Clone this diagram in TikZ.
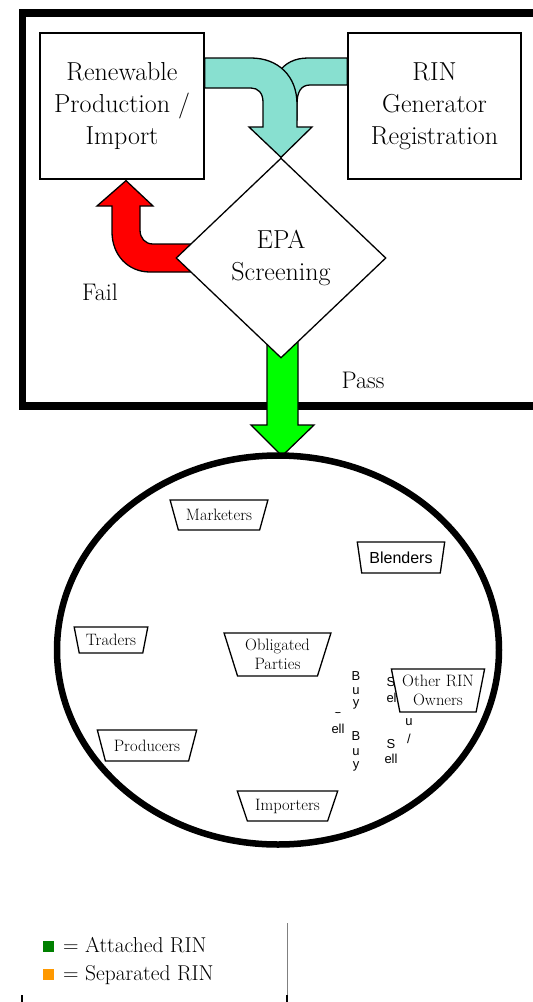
\documentclass[tikz,border=0pt]{standalone}
\usepackage{fontspec}
\setsansfont{Liberation Sans}
\usetikzlibrary{calc,positioning,shapes.geometric}
\pgfdeclarelayer{back}
\pgfsetlayers{back,main}

\definecolor{rinteal}{RGB}{136,224,208}
\definecolor{passgreen}{RGB}{0,255,0}
\definecolor{failred}{RGB}{255,0,0}
\definecolor{attgreen}{RGB}{0,128,0}
\definecolor{seporange}{RGB}{255,153,0}

\tikzset{
  bigbox/.style={draw,line width=1.3,fill=white,rectangle,align=center,
    font=\fontsize{26}{32}\selectfont},
  party/.style={draw,line width=1.3,fill=white,trapezium,trapezium stretches=true,
    shape border rotate=180,inner sep=1pt,align=center,
    font=\fontsize{16.5}{19}\selectfont},
  frag/.style={inner sep=0,font=\sffamily\fontsize{13}{13}\selectfont},
  blockarrow/.style={draw,line width=1.3,line join=miter},
}

\begin{document}
\begin{tikzpicture}[x=1pt,y=-1pt]

  \useasboundingbox (0,0) rectangle (533,1002);

  % screening stage
  \node[bigbox,minimum width=164,minimum height=146] at(122,106) (renew) {Renewable\\Production /\\Import};
  \node[bigbox,minimum width=173,minimum height=146] at(434.5,106) (rin) {RIN\\Generator\\Registration};
  \node[draw,line width=1.3,fill=white,diamond,minimum width=210,minimum height=200,inner sep=0,
    align=center,font=\fontsize{26}{32}\selectfont] at(281,258) (epa) {EPA\\Screening};

  \node[font=\fontsize{24}{24}\selectfont] at(100,292) (fail) {Fail};
  \node[font=\fontsize{24}{24}\selectfont] at(363,380) (pass) {Pass};

  \begin{pgfonlayer}{back}
    \fill[white] (0,0) rectangle (533,1002);
    % outer frame
    \draw[line width=7.5] (545,13) -- (22.5,13) -- (22.5,406) -- (545,406);

    % RIN registration joins the flow
    \filldraw[blockarrow,fill=rinteal] (rin.west |- 0,58) -- (308,58)
      .. controls (295,58) and (285,63) .. (279,72) -- (270,92) -- (275,120) -- (297,120)
      -- (297,104) .. controls (297,92) and (301,85) .. (310,85) -- (rin.west |- 0,85) -- cycle;
    \filldraw[blockarrow,fill=rinteal] (renew.east |- 0,58) -- (251,58)
      .. controls (278,58) and (297,76) .. (297,104) -- (297,127) -- (312,127) -- (epa.north)
      -- (249,127) -- (263,127) -- (263,102) .. controls (263,93) and (258,88) .. (251,88)
      -- (renew.east |- 0,88) -- cycle;

    % fail goes back
    \filldraw[blockarrow,fill=failred] ($(epa.west)+(30,-14)$) -- (153,244)
      .. controls (145,244) and (140,238) .. (140,230) -- (140,206) -- (153,206)
      -- ($(renew.south)+(4,1)$) -- (97,206) -- (112,206) -- (112,232)
      .. controls (112,255) and (128,272) .. (150,272) -- ($(epa.west)+(30,14)$) -- cycle;

    % pass goes to market
    \filldraw[blockarrow,fill=passgreen] (267,330) -- (267,425) -- (251,425) -- (282,456)
      -- (314,425) -- (298,425) -- (298,330) -- cycle;
  \end{pgfonlayer}

  % RIN market
  \node[draw,line width=6.5,line join=round,ellipse,minimum width=442,minimum height=389] at(278,650) (market) {};

  \node[party,trapezium angle=63,minimum width=98,minimum height=30] at(219,515) (marketers) {Marketers};
  \node[party,trapezium angle=75,minimum width=88,minimum height=31,
    font=\sffamily\fontsize{16}{16}\selectfont] at(401,557.5) (blenders) {Blenders};
  \node[party,trapezium angle=73,minimum width=74,minimum height=26] at(111,640) (traders) {Traders};
  \node[party,trapezium angle=71,minimum width=107,minimum height=43] at(277.5,654.5) (obligated) {Obligated\\Parties};
  \node[party,trapezium angle=64,minimum width=100,minimum height=31] at(147,745.5) (producers) {Producers};
  \node[party,trapezium angle=63,minimum width=101,minimum height=30] at(287.5,806) (importers) {Importers};

  % broken buy / sell labels
  \foreach \ch/\yy [count=\i] in {B/676,u/691,y/704}{
    \node[frag] at(356,\yy) (buy_a\i) {\ch};
  }
  \foreach \ch/\yy [count=\i] in {B/736,u/752,y/766}{
    \node[frag] at(356,\yy) (buy_b\i) {\ch};
  }
  \begin{scope}
    \clip (330,712) rectangle (346,720);
    \node[frag] at(338,709) (sell_cut) {S};
  \end{scope}
  \node[frag] at(338,729) (sell_a) {ell};
  \node[frag] at(391,682) (sell_b1) {S};
  \node[frag] at(393,698) (sell_b2) {ell};
  \node[frag] at(409,722) (buy_c1) {u};
  \node[frag] at(409,739) (buy_c2) {/};
  \node[frag] at(391,744) (sell_c1) {S};
  \node[frag] at(391,759) (sell_c2) {ell};

  \node[party,trapezium angle=76,minimum width=94,minimum height=43] at(438,690.5) (owners) {Other RIN\\Owners};

  % legend
  \fill[white] (22,923) rectangle (287,1002);
  \draw[gray,line width=0.8] (287,923) -- (287,995);
  \draw[line width=1.5] (22,995) -- (22,1002);
  \draw[line width=1.5] (287,995) -- (287,1002);
  \node[fill=attgreen,minimum size=11,inner sep=0] at(48.5,946.5) (att_sq) {};
  \node[fill=seporange,minimum size=11,inner sep=0] at(48.5,974.5) (sep_sq) {};
  \node[anchor=base west,inner sep=0,font=\fontsize{21.5}{22}\selectfont] at(63,952) (att_txt) {= Attached RIN};
  \node[anchor=base west,inner sep=0,font=\fontsize{21.5}{22}\selectfont] at(63,980) (sep_txt) {= Separated RIN};

\end{tikzpicture}
\end{document}
